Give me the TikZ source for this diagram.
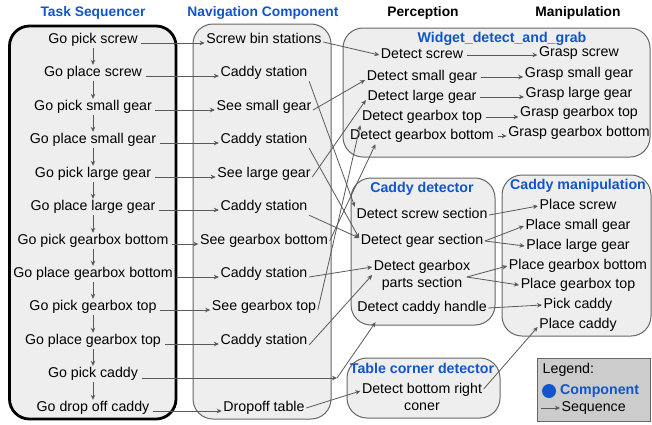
\documentclass[tikz,border=0pt]{standalone}
\usepackage{fontspec}
\setmainfont{Liberation Sans}
\usetikzlibrary{arrows.meta}
\definecolor{compblue}{HTML}{1155CC}
\definecolor{boxfill}{HTML}{EEEEEE}
\definecolor{boxline}{HTML}{666666}
\definecolor{linkgray}{HTML}{595959}
\definecolor{legendfill}{HTML}{CCCCCC}

\begin{document}
\begin{tikzpicture}[x=1pt,y=-1pt,
  item/.style={font=\fontsize{14.2}{17}\selectfont, inner sep=1.5pt, text height=10pt, text depth=3pt},
  item2/.style={font=\fontsize{14.2}{17}\selectfont, inner sep=1.5pt, align=center},
  header/.style={font=\fontsize{13.8}{16}\selectfont\bfseries, inner sep=0pt},
  comptitle/.style={font=\fontsize{14.2}{16}\selectfont\bfseries, text=compblue, inner sep=0pt},
  panel/.style={draw=boxline, fill=boxfill, line width=1pt, rounded corners=20pt},
  flow/.style={draw=linkgray, line width=0.8pt, -{Stealth[length=5pt,width=4.5pt]}},
]
\useasboundingbox (0,0) rectangle (652,424);

% ---- panels ----
\path[panel, draw=black, line width=2.8pt] (9.5,26) rectangle (176,419);
\path[panel] (193,24) rectangle (331,419);
\path[panel] (343,28) rectangle (650,157);
\path[panel] (351,178) rectangle (495,325);
\path[panel] (502,175) rectangle (651,336);
\path[panel] (347,358) rectangle (500,418);
\path[draw=boxline, fill=legendfill, line width=1pt] (537,358) rectangle (650,421);

% ---- column headers ----
\node[header, text=compblue] (hTask) at (93,13) {Task Sequencer};
\node[header, text=compblue] (hNav) at (263,13) {Navigation Component};
\node[header] (hPer) at (423,13) {Perception};
\node[header] (hMan) at (578,13) {Manipulation};

% ---- component titles ----
\node[comptitle] (ttWidget) at (502,39) {Widget\_detect\_and\_grab};
\node[comptitle] (ttCaddyDet) at (422,189) {Caddy detector};
\node[comptitle] (ttCaddyMan) at (578,186) {Caddy manipulation};
\node[comptitle] (ttTable) at (422,368) {Table corner detector};

% ---- task sequencer ----
\node[item] (t1) at (93,40) {Go pick screw};
\node[item] (t2) at (93,73) {Go place screw};
\node[item] (t3) at (93,107) {Go pick small gear};
\node[item] (t4) at (93,140) {Go place small gear};
\node[item] (t5) at (93,174) {Go pick large gear};
\node[item] (t6) at (93,207) {Go place large gear};
\node[item] (t7) at (93,241) {Go pick gearbox bottom};
\node[item] (t8) at (93,274) {Go place gearbox bottom};
\node[item] (t9) at (93,307) {Go pick gearbox top};
\node[item] (t10) at (93,341) {Go place gearbox top};
\node[item] (t11) at (93,374) {Go pick caddy};
\node[item] (t12) at (93,408) {Go drop off caddy};

% ---- navigation ----
\node[item] (n1) at (264,40) {Screw bin stations};
\node[item] (n2) at (264,73) {Caddy station};
\node[item] (n3) at (264,107) {See small gear};
\node[item] (n4) at (264,140) {Caddy station};
\node[item] (n5) at (264,174) {See large gear};
\node[item] (n6) at (264,207) {Caddy station};
\node[item] (n7) at (264,241) {See gearbox bottom};
\node[item] (n8) at (264,274) {Caddy station};
\node[item] (n9) at (264,307) {See gearbox top};
\node[item] (n10) at (264,341) {Caddy station};
\node[item] (n11) at (264,408) {Dropoff table};

% ---- perception ----
\node[item] (p1) at (422,55) {Detect screw};
\node[item] (p2) at (422,77) {Detect small gear};
\node[item] (p3) at (422,97) {Detect large gear};
\node[item] (p4) at (422,117) {Detect gearbox top};
\node[item] (p5) at (422,136) {Detect gearbox bottom};
\node[item] (c1) at (422,215) {Detect screw section};
\node[item] (c2) at (422,241) {Detect gear section};
\node[item2] (c3) at (422,275) {Detect gearbox\\parts section};
\node[item] (c4) at (422,308) {Detect caddy handle};
\node[item2] (d1) at (422,397) {Detect bottom right\\coner};

% ---- manipulation ----
\node[item] (g1) at (579,53) {Grasp screw};
\node[item] (g2) at (579,74) {Grasp small gear};
\node[item] (g3) at (579,94) {Grasp large gear};
\node[item] (g4) at (579,113) {Grasp gearbox top};
\node[item] (g5) at (579,133) {Grasp gearbox bottom};
\node[item] (m1) at (578,206) {Place screw};
\node[item] (m2) at (578,226) {Place small gear};
\node[item] (m3) at (578,246) {Place large gear};
\node[item] (m4) at (578,266) {Place gearbox bottom};
\node[item] (m5) at (578,285) {Place gearbox top};
\node[item] (m6) at (578,305) {Pick caddy};
\node[item] (m7) at (578,325) {Place caddy};

% ---- legend ----
\node[item, anchor=west] (lgTitle) at (541,370) {Legend:};
\node[circle, fill=compblue, minimum size=14pt, inner sep=0pt] (lgDot) at (549,391) {};
\node[comptitle, anchor=west] (lgComp) at (560,391) {Component};
\coordinate (lgStart) at (541,408);
\node[item, anchor=west] (lgSeq) at (560,408) {Sequence};
\draw[flow] (lgStart) -- (lgSeq.west);

% ---- sequence inside the task sequencer ----
\foreach \a/\b in {t1/t2,t2/t3,t3/t4,t4/t5,t5/t6,t6/t7,t7/t8,t8/t9,t9/t10,t10/t11,t11/t12}
  \draw[flow] (\a.south) -- (\b.north);

% ---- task -> navigation ----
\foreach \a/\b in {t1/n1,t2/n2,t3/n3,t4/n4,t5/n5,t6/n6,t7/n7,t8/n8,t9/n9,t10/n10,t12/n11}
  \draw[flow] ([xshift=2pt,yshift=-3pt]\a.east) -- ([yshift=-3pt]\a.east -| \b.west);

% ---- navigation -> perception ----
\draw[flow] ([yshift=-2pt]n1.east) -- (p1.west);
\draw[flow] (n2.south east) -- (c1.north west);
\draw[flow] ([yshift=-3pt]n3.east) -- ([yshift=-3pt]p2.west);
\draw[flow] (n4.south east) -- ([yshift=3pt]c2.west);
\draw[flow] ([yshift=-3pt]n5.east) -- ([yshift=-3pt]p3.west);
\draw[flow] (n6.south east) -- ([yshift=3pt]c2.west);
\draw[flow] (n7.east) -- ([xshift=27pt]p5.south west);
\draw[flow] ([yshift=-3pt]n8.east) -- ([yshift=8pt]c3.west);
\draw[flow] ([yshift=-3pt]n9.east) -- (p4.south west);
\draw[flow] ([yshift=-4pt]n10.east) -- (c3.west);
\coordinate (elbow) at (337,378);
\draw[flow] ([xshift=2pt,yshift=-4pt]t11.east) -- (elbow);
\draw[flow] (elbow) -- ([xshift=20pt,yshift=-6pt]c4.south west);
\draw[flow] (n11.east) -- ([yshift=6pt]d1.west);

% ---- perception -> manipulation ----
\foreach \a/\b in {p1/g1,p2/g2,p3/g3,p4/g4,p5/g5}
  \draw[flow] ([xshift=2pt]\a.east) -- (\a.east -| \b.west);
\draw[flow] (c1.east) -- (m1.west);
\draw[flow] (c2.east) -- (m2.west);
\draw[flow] (c2.east) -- (m3.west);
\draw[flow] ([xshift=-5pt,yshift=-2pt]c3.east) -- (m4.west);
\draw[flow] ([xshift=-5pt,yshift=-2pt]c3.east) -- (m5.west);
\draw[flow] (c4.east) -- (m6.west);
\draw[flow] ([yshift=8pt]d1.east) -- ([yshift=-2pt]m7.west);
\end{tikzpicture}
\end{document}
